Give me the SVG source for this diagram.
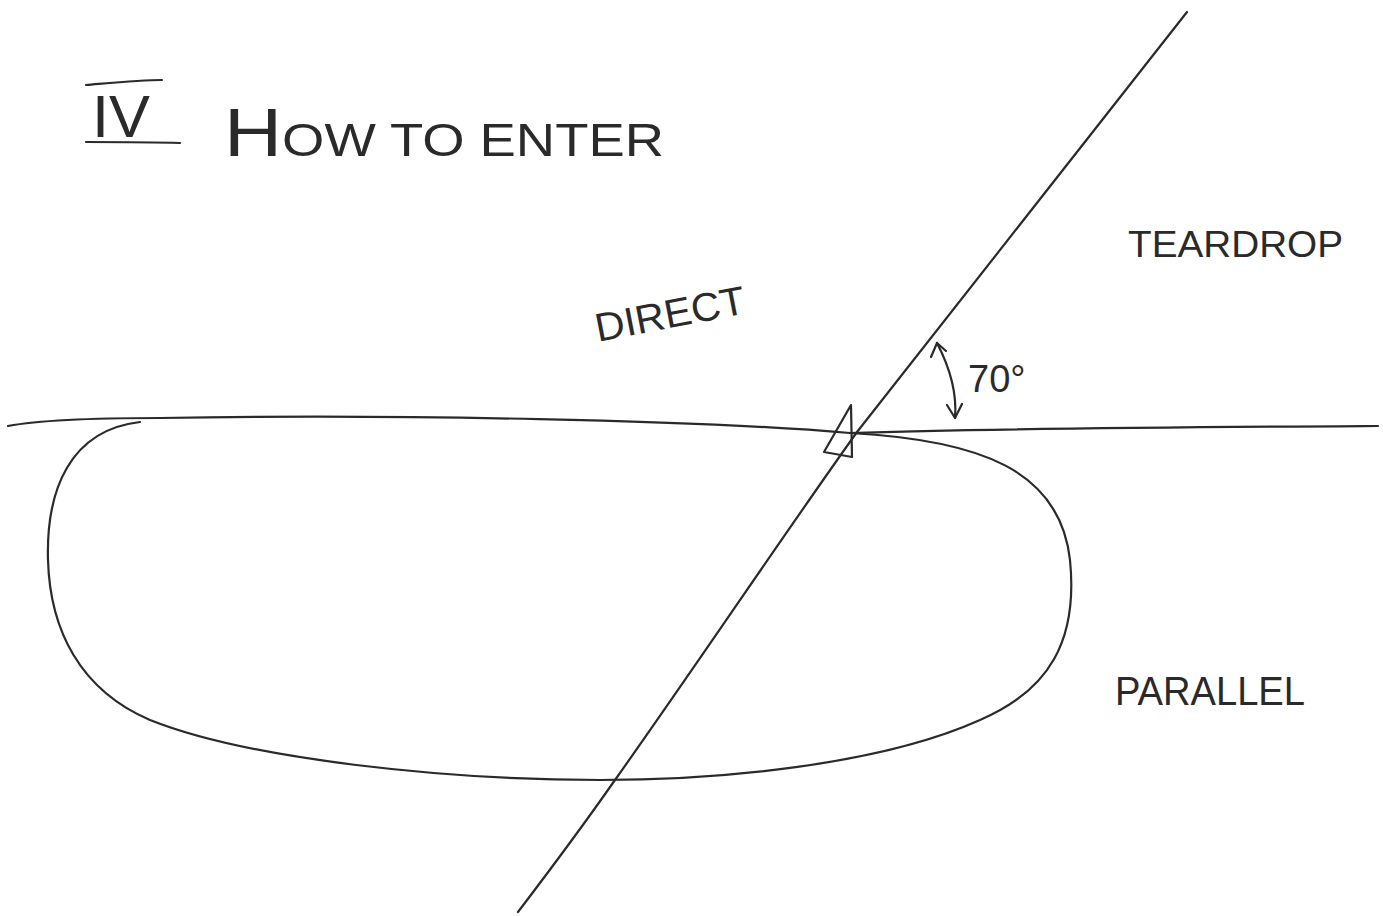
<svg xmlns="http://www.w3.org/2000/svg" width="1383" height="916" viewBox="0 0 1383 916">
<style>
.ink{fill:none;stroke:#2a2a2a;stroke-width:2.2;stroke-linecap:round;stroke-linejoin:round}
.txt{font-family:"Liberation Sans",Arial,sans-serif;fill:#2a2a2a;font-weight:normal}
</style>
<rect width="1383" height="916" fill="#ffffff"/>
<g id="title">
<path class="ink" d="M86,85 C110,83 140,80 162,80 M86,142 C120,142 150,142 180,143"/>
<text class="txt" x="92" y="137" font-size="60" textLength="58" lengthAdjust="spacingAndGlyphs">IV</text>
<text class="txt" x="224" y="156" textLength="440" lengthAdjust="spacingAndGlyphs"><tspan font-size="68">H</tspan><tspan font-size="46">OW TO ENTER</tspan></text>
</g>
<g id="lines">
<path class="ink" d="M1187,12 C1070,160 960,300 857,432 C780,540 700,660 615,780 C580,830 550,870 518,912"/>
<path class="ink" d="M8,426 C40,420 100,418 160,418 C400,414 700,420 850,433 C1000,428 1200,427 1378,426"/>
<path class="ink" d="M850,433 C980,440 1060,470 1070,560 C1078,640 1050,690 980,720 C880,765 720,780 600,780 C450,780 250,760 150,720 C80,690 50,630 48,560 C46,490 70,430 140,422"/>
</g>
<g id="aircraft">
<path class="ink" d="M851,405 L824,452 L852,457 Z"/>
</g>
<g id="angle">
<path class="ink" d="M937,343 C950,368 957,395 955,418"/>
<path class="ink" d="M931,357 L937,343 L946,351"/>
<path class="ink" d="M947,405 L955,418 L962,404"/>
<text class="txt" x="968" y="392" font-size="38">70°</text>
</g>
<g id="labels">
<text class="txt" x="598" y="342" font-size="40" transform="rotate(-11 598 342)" textLength="152" lengthAdjust="spacingAndGlyphs">DIRECT</text>
<text class="txt" x="1128" y="257" font-size="36" textLength="215" lengthAdjust="spacingAndGlyphs">TEARDROP</text>
<text class="txt" x="1115" y="705" font-size="40" textLength="190" lengthAdjust="spacingAndGlyphs">PARALLEL</text>
</g>
</svg>
